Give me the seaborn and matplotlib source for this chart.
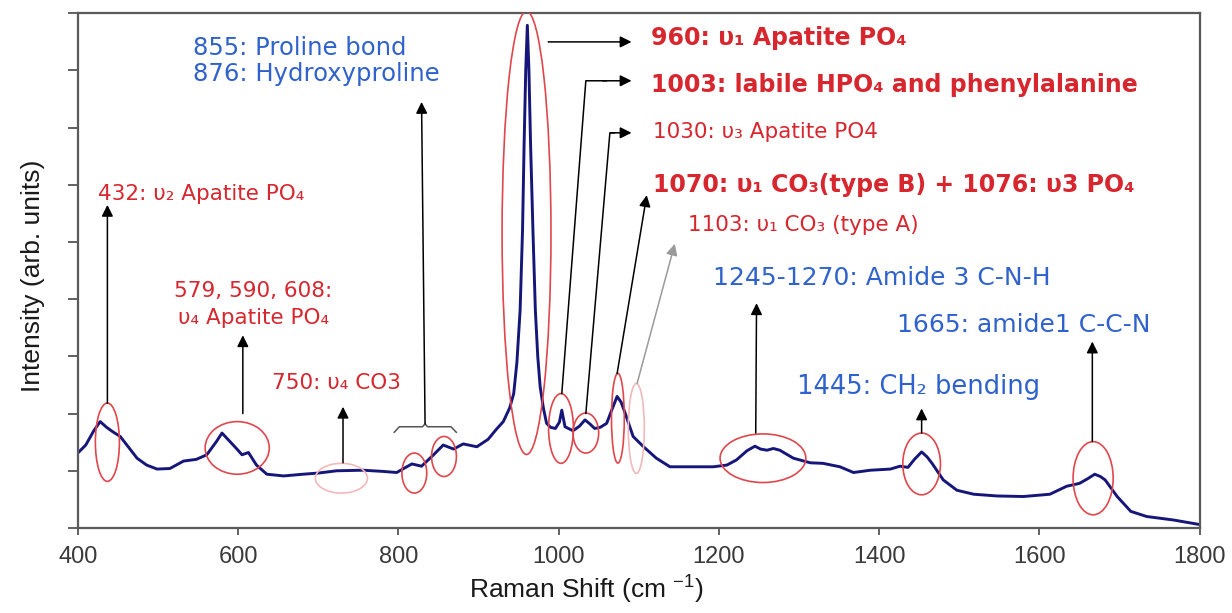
import numpy as np
import pandas as pd
import seaborn as sns
import matplotlib.pyplot as plt
from matplotlib.patches import Ellipse

# Raman spectrum of bone tissue (arbitrary intensity units)
raman_shift = [400, 410, 420, 428, 436, 444, 453, 463, 474, 486, 499, 515, 532, 548,
               561, 573, 580, 588, 598, 605, 613, 623, 636, 657, 681, 700, 723, 756,
               780, 798, 808, 817, 829, 844, 856, 869, 881, 898, 912, 922, 931, 939,
               944, 948, 952, 955, 957, 959, 961, 963, 965, 968, 971, 974, 977, 981,
               985, 990, 996, 1001, 1004, 1008, 1018, 1026, 1033, 1039, 1045, 1052,
               1060, 1066, 1073, 1078, 1083, 1093, 1106, 1122, 1139, 1164, 1193, 1210,
               1222, 1235, 1245, 1252, 1260, 1268, 1276, 1293, 1314, 1330, 1351, 1368,
               1389, 1414, 1426, 1436, 1444, 1453, 1460, 1466, 1480, 1497, 1518, 1547,
               1580, 1613, 1634, 1650, 1660, 1669, 1676, 1682, 1697, 1714, 1734, 1767,
               1800]
intensity = [1.31, 1.45, 1.70, 1.86, 1.76, 1.68, 1.60, 1.42, 1.22, 1.10, 1.03, 1.04, 1.17,
             1.20, 1.28, 1.51, 1.66, 1.54, 1.39, 1.28, 1.32, 1.10, 0.94, 0.91, 0.94, 0.96,
             1.00, 1.01, 0.99, 0.97, 1.05, 1.12, 1.08, 1.28, 1.45, 1.38, 1.47, 1.42, 1.55,
             1.72, 1.86, 2.10, 2.35, 2.90, 3.81, 5.20, 6.73, 8.00, 8.79, 8.00, 6.73, 5.20,
             3.81, 3.00, 2.47, 2.10, 1.83, 1.76, 1.74, 1.85, 2.06, 1.77, 1.70, 1.78, 1.89,
             1.82, 1.74, 1.76, 1.83, 2.05, 2.30, 2.20, 2.01, 1.60, 1.42, 1.22, 1.07, 1.07,
             1.07, 1.10, 1.19, 1.35, 1.43, 1.38, 1.36, 1.39, 1.36, 1.22, 1.14, 1.13, 1.07,
             0.97, 1.01, 1.03, 1.08, 1.06, 1.20, 1.33, 1.24, 1.13, 0.84, 0.66, 0.59, 0.56,
             0.55, 0.59, 0.73, 0.78, 0.86, 0.94, 0.90, 0.84, 0.55, 0.29, 0.20, 0.14, 0.06]

x_ticks = [400, 600, 800, 1000, 1200, 1400, 1600, 1800]

# band regions highlighted with ellipses: (centre shift, centre intensity, width, height)
band_regions = [(437, 1.50, 30, 1.37), (599, 1.40, 80, 0.92), (820, 0.96, 31, 0.70),
                (857, 1.25, 31, 0.70), (960, 5.16, 61, 7.75), (1003, 1.74, 31, 1.22),
                (1034, 1.66, 32, 0.70), (1074, 1.92, 16, 1.57), (1255, 1.22, 107, 0.85),
                (1453, 1.12, 47, 1.08), (1667, 0.87, 50, 1.28)]
faint_regions = [(729, 0.87, 65, 0.52), (1097, 1.74, 20, 1.57)]

sns.set_theme(style="white")
plt.rcParams["font.family"] = ["DejaVu Sans"]
plt.rcParams["mathtext.fontset"] = "custom"
plt.rcParams["mathtext.rm"] = "Liberation Sans"
plt.rcParams["mathtext.default"] = "regular"

RED = "#d8262e"
BLUE = "#2f62cc"
LINE = "#16167a"

fig = plt.figure(figsize=(12.32, 6.13), dpi=100)
ax = fig.add_axes([0.0631, 0.1387, 0.9107, 0.8396])

df = pd.DataFrame({"shift": raman_shift, "intensity": intensity})
sns.lineplot(data=df, x="shift", y="intensity", ax=ax, color=LINE, linewidth=2.1)

ax.set_xlim(400, 1800)
ax.set_ylim(0, 9)
ax.set_xticks(x_ticks)
ax.set_xticklabels([str(v) for v in x_ticks], family="Liberation Sans", fontsize=17,
                   color="#3a3a3a")
ax.set_yticks(range(10))
ax.set_yticklabels([])
ax.tick_params(axis="y", direction="out", length=7, width=1.3, color="#555555", left=True)
ax.tick_params(axis="x", direction="out", length=5, width=1.3, color="#555555",
               bottom=True, pad=8)
for sp in ax.spines.values():
    sp.set_color("#5a5a5a")
    sp.set_linewidth(1.6)

ax.set_xlabel("Raman Shift (cm $^{-1}$)", family="Liberation Sans", fontsize=19,
              color="#1a1a1a")
ax.xaxis.set_label_coords(0.453, -0.12)
ax.xaxis.label.set_va("center")
ax.set_ylabel("Intensity (arb. units)", family="Liberation Sans", fontsize=19,
              color="#1a1a1a")
ax.yaxis.set_label_coords(-0.04, 0.49)
ax.yaxis.label.set_va("center")

# ellipses around the bands
for cx, cy, w, h in band_regions:
    ax.add_patch(Ellipse((cx, cy), w, h, fill=False, edgecolor="#e0474d", lw=1.2, zorder=3))
for cx, cy, w, h in faint_regions:
    ax.add_patch(Ellipse((cx, cy), w, h, fill=False, edgecolor="#f2b9bb", lw=1.2, zorder=3))

arrow_kw = dict(arrowstyle="-|>", color="black", lw=1.1, mutation_scale=17,
                shrinkA=0, shrinkB=0)


def arrow(x0, y0, x1, y1, color="black"):
    kw = dict(arrow_kw)
    kw["color"] = color
    ax.annotate("", xy=(x1, y1), xytext=(x0, y0), arrowprops=kw, zorder=4)


# straight arrows from the bands
arrow(437, 2.18, 437, 5.65)
arrow(606, 2.00, 606, 3.37)
arrow(731, 1.14, 731, 2.12)
arrow(1073, 2.70, 1110, 5.82)
arrow(1098, 2.53, 1145, 4.97, color="#9a9a9a")
arrow(1246, 1.66, 1247, 3.93)
arrow(1453, 1.66, 1453, 2.09)
arrow(1666, 1.51, 1666, 3.26)
arrow(987, 8.50, 1091, 8.50)

# elbow arrows for 1003 and 1030
ax.plot([1004, 1034, 1060], [2.35, 7.82, 7.82], color="black", lw=1.1, zorder=4)
arrow(1055, 7.82, 1091, 7.82)
ax.plot([1034, 1064, 1070], [2.00, 6.91, 6.91], color="black", lw=1.1, zorder=4)
arrow(1065, 6.91, 1091, 6.91)

# brace over the 820-880 doublet with its arrow
ax.plot([794.7, 801.3, 830.2, 833.4, 836.5, 865.8, 872.6],
        [1.67, 1.77, 1.77, 1.82, 1.77, 1.77, 1.67], color="#555555", lw=1.1, zorder=4)
arrow(833.4, 1.82, 829, 7.45)

# band assignments
ax.text(544, 8.27, "855: Proline bond", color=BLUE, fontsize=17.5)
ax.text(544, 7.81, "876: Hydroxyproline", color=BLUE, fontsize=17.5)
ax.text(425, 5.73, "432: υ₂ Apatite PO₄", color=RED, fontsize=15.5)
ax.text(619, 4.04, "579, 590, 608:", color=RED, fontsize=15.5, ha="center")
ax.text(619, 3.57, "υ₄ Apatite PO₄", color=RED, fontsize=15.5, ha="center")
ax.text(642, 2.43, "750: υ₄ CO3", color=RED, fontsize=15.5)
ax.text(1115.5, 8.44, "960: υ₁ Apatite PO₄", color=RED, fontsize=17, weight="bold")
ax.text(1115.5, 7.63, "1003: labile HPO₄ and phenylalanine", color=RED, fontsize=17,
        weight="bold")
ax.text(1117.5, 6.82, "1030: υ₃ Apatite PO4", color=RED, fontsize=15.5)
ax.text(1117.5, 5.88, "1070: υ₁ CO₃(type B) + 1076: υ3 PO₄", color=RED, fontsize=17,
        weight="bold")
ax.text(1161.5, 5.20, "1103: υ₁ CO₃ (type A)", color=RED, fontsize=15.5)
ax.text(1192.5, 4.25, "1245-1270: Amide 3 C-N-H", color=BLUE, fontsize=18)
ax.text(1422, 3.43, "1665: amide1 C-C-N", color=BLUE, fontsize=18)
ax.text(1298, 2.35, "1445: CH₂ bending", color=BLUE, fontsize=18.5)

fig.savefig("out.png", dpi=100)
